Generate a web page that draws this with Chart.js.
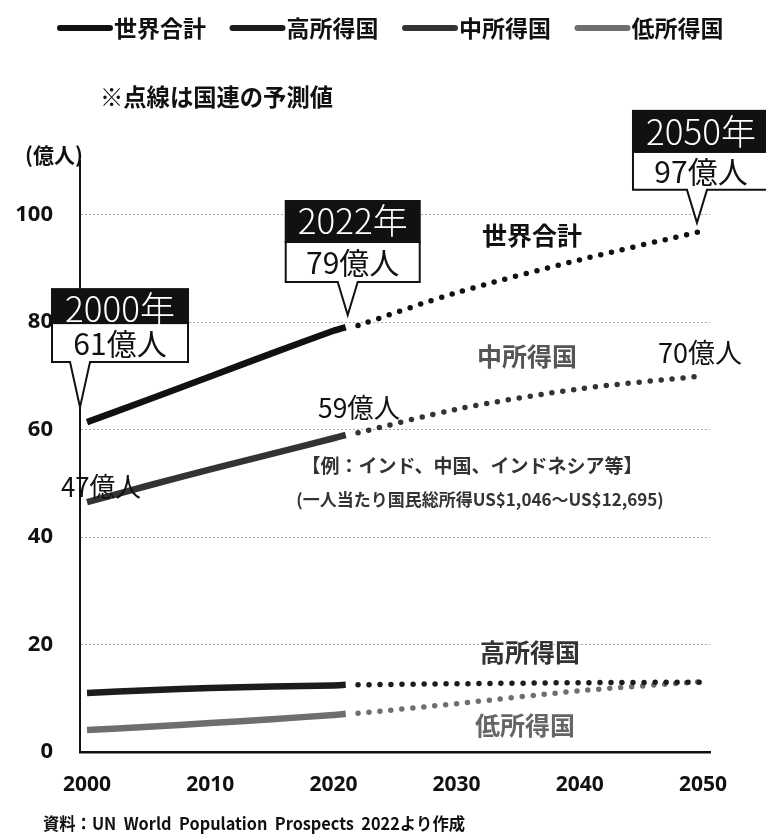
<!DOCTYPE html>
<html lang="ja">
<head>
<meta charset="utf-8">
<title>世界人口の推移</title>
<script src="https://cdn.jsdelivr.net/npm/chart.js@4.4.1/dist/chart.umd.min.js"></script>
<style>
  html, body { margin: 0; padding: 0; background: #fff; }
  #wrap { width: 766px; height: 837px; }
</style>
</head>
<body>
<div id="wrap"><canvas id="chart" width="766" height="837"></canvas></div>
<script>
/* ---------- data (億人) ---------- */
const seriesNames = ["世界合計", "高所得国", "中所得国", "低所得国"];

// actual values (solid lines)
const actualYears = [2000, 2005, 2010, 2015, 2020, 2021];
const actualWorld = [61.4, 65.6, 69.9, 74.2, 78.4, 79.1];
const actualHigh = [11.0, 11.5, 11.9, 12.2, 12.4, 12.5];
const actualMiddle = [46.5, 49.6, 52.6, 55.5, 58.4, 59.0];
const actualLow = [4.1, 4.7, 5.4, 6.1, 6.9, 7.1];

// UN projections (dotted lines)
const forecastYears = [2022, 2030, 2040, 2050];
const forecastWorld = [79.4, 85.5, 91.6, 97.0];
const forecastHigh = [12.5, 12.7, 12.9, 13.0];
const forecastMiddle = [59.4, 63.8, 67.6, 70.0];
const forecastLow = [7.2, 9.0, 11.4, 13.1];

const yearTicks = [2000, 2010, 2020, 2030, 2040, 2050];
const popTicks = [0, 20, 40, 60, 80, 100];

// callouts on the world total line
const calloutHeads = ["2000年", "2022年", "2050年"];
const calloutBodies = ["61億人", "79億人", "97億人"];

/* ---------- styles ---------- */
const colors = ["#111111", "#1c1c1c", "#333333", "#6e6e6e"];
const CJK = '"Noto Sans CJK JP", "Noto Sans", sans-serif';

const actualSeries = [actualWorld, actualHigh, actualMiddle, actualLow];
const forecastSeries = [forecastWorld, forecastHigh, forecastMiddle, forecastLow];
const toPts = (xs, ys) => xs.map((x, i) => ({ x: x, y: ys[i] }));

const datasets = [];
actualSeries.forEach((vals, i) => {
    datasets.push({
        label: seriesNames[i],
        data: toPts(actualYears, vals),
        borderColor: colors[i],
        borderWidth: 6.5,
        borderCapStyle: "butt",
        pointRadius: 0,
        tension: 0.25,
        fill: false
    });
});
forecastSeries.forEach((vals, i) => {
    datasets.push({
        label: seriesNames[i] + "（予測）",
        data: toPts(forecastYears, vals),
        borderColor: colors[i],
        borderWidth: 5.5,
        borderDash: [0, 11],
        borderCapStyle: "round",
        pointRadius: 0,
        tension: 0.3,
        fill: false
    });
});

/* ---------- callout boxes ---------- */
// geometry per callout: where the pointer tip sits relative to the data point
const calloutGeom = [
    { dx: -7, dy: -15, leftOff: 28, width: 136, headH: 35, bodyH: 39, pointerH: 45, headBase: 1 },
    { dx: 2, dy: -12, leftOff: 62, width: 134, headH: 42, bodyH: 40, pointerH: 33, headBase: 8 },
    { dx: -6, dy: -8, leftOff: 64, width: 136, headH: 42, bodyH: 38, pointerH: 33, headBase: 7 }
];

const calloutPlugin = {
    id: "callouts",
    afterDatasetsDraw(chart) {
        const ctx = chart.ctx;
        const xs = chart.scales.x, ys = chart.scales.y;
        const last = actualYears.length - 1;
        const anchors = [
            [actualYears[0], actualWorld[0]],
            [actualYears[last], actualWorld[last]],
            [forecastYears[forecastYears.length - 1], forecastWorld[forecastWorld.length - 1]]
        ];
        anchors.forEach((a, i) => {
            const g = calloutGeom[i];
            const ax = xs.getPixelForValue(a[0]) + g.dx;
            const ay = ys.getPixelForValue(a[1]) + g.dy;
            const left = ax - g.leftOff, right = left + g.width;
            const bodyBottom = ay - g.pointerH;
            const bodyTop = bodyBottom - g.bodyH;
            const headTop = bodyTop - g.headH;

            ctx.save();
            ctx.beginPath();
            ctx.moveTo(left, bodyTop);
            ctx.lineTo(right, bodyTop);
            ctx.lineTo(right, bodyBottom);
            ctx.lineTo(ax + 10, bodyBottom);
            ctx.lineTo(ax, ay);
            ctx.lineTo(ax - 10, bodyBottom);
            ctx.lineTo(left, bodyBottom);
            ctx.closePath();
            ctx.fillStyle = "#fff";
            ctx.fill();
            ctx.lineWidth = 2;
            ctx.strokeStyle = "#111";
            ctx.lineJoin = "miter";
            ctx.stroke();

            ctx.fillStyle = "#111";
            ctx.fillRect(left - 1, headTop, g.width + 2, g.headH + 1);

            const cx = (left + right) / 2;
            ctx.textAlign = "center";
            ctx.fillStyle = "#fff";
            ctx.font = "300 35px " + CJK;
            ctx.textBaseline = "alphabetic";
            ctx.fillText(calloutHeads[i], cx, bodyTop - g.headBase);

            ctx.fillStyle = "#111";
            ctx.font = "400 30px " + CJK;
            ctx.textBaseline = "middle";
            ctx.fillText(calloutBodies[i], cx, bodyTop + g.bodyH / 2 + 1);
            ctx.restore();
        });
    }
};

/* ---------- legend + text labels ---------- */
const textLabels = [
    { t: "世界合計", x: 532, y: 235, f: "bold 25px", c: "#111", w: 103 },
    { t: "中所得国", x: 527, y: 356, f: "bold 25px", c: "#555", w: 102 },
    { t: "70億人", x: 700, y: 353, f: "400 27px", c: "#111", w: 86 },
    { t: "59億人", x: 359, y: 408, f: "400 27px", c: "#111", w: 82 },
    { t: "47億人", x: 101, y: 487, f: "400 27px", c: "#111", w: 80 },
    { t: "【例：インド、中国、インドネシア等】", x: 472, y: 466, f: "bold 19px", c: "#333", w: 354 },
    { t: "(一人当たり国民総所得US$1,046～US$12,695)", x: 480, y: 500, f: "bold 17px", c: "#333", w: 386 },
    { t: "高所得国", x: 530, y: 652, f: "bold 25px", c: "#333", w: 104 },
    { t: "低所得国", x: 525, y: 725, f: "bold 25px", c: "#666", w: 104 },
    { t: "※点線は国連の予測値", x: 100, y: 97, f: "bold 24px", c: "#111", w: 233, a: "left" },
    { t: "(億人)", x: 25, y: 155, f: "bold 21px", c: "#111", w: 66, a: "left" },
    { t: "資料：UN  World  Population  Prospects  2022より作成", x: 43, y: 824, f: "bold 17px", c: "#111", w: 422, a: "left" }
];

const labelPlugin = {
    id: "labels",
    afterDraw(chart) {
        const ctx = chart.ctx;
        ctx.save();
        ctx.textBaseline = "middle";
        textLabels.forEach(l => {
            ctx.font = l.f + " " + CJK;
            ctx.fillStyle = l.c;
            ctx.textAlign = l.a || "center";
            ctx.fillText(l.t, l.x, l.y, l.w);
        });

        // legend: one entry per solid series
        const legendY = 28;
        for (let i = 0; i < seriesNames.length; i++) {
            const x0 = 60 + i * 172.5;
            ctx.beginPath();
            ctx.lineCap = "round";
            ctx.lineWidth = 6;
            ctx.strokeStyle = chart.data.datasets[i].borderColor;
            ctx.moveTo(x0, legendY);
            ctx.lineTo(x0 + 50, legendY);
            ctx.stroke();
            ctx.font = "bold 23px " + CJK;
            ctx.fillStyle = "#111";
            ctx.textAlign = "left";
            ctx.fillText(chart.data.datasets[i].label, x0 + 54, legendY, 95);
        }
        ctx.restore();
    }
};

/* ---------- chart ---------- */
const tickFont = { family: '"Noto Sans", sans-serif', size: 21, weight: "bold" };

new Chart(document.getElementById("chart").getContext("2d"), {
    type: "line",
    data: { datasets: datasets },
    options: {
        responsive: false,
        animation: false,
        devicePixelRatio: 1,
        layout: { padding: { top: 161, right: 56, left: 0, bottom: 0 } },
        plugins: {
            legend: { display: false },
            tooltip: { enabled: false }
        },
        scales: {
            x: {
                type: "linear",
                min: 1999.43,
                max: 2050.57,
                afterBuildTicks: s => { s.ticks = yearTicks.map(v => ({ value: v })); },
                afterFit: s => { s.height = 85; },
                grid: { display: false, drawTicks: false },
                border: { display: true, color: "#111", width: 2.5 },
                ticks: {
                    padding: 20,
                    color: "#111",
                    font: tickFont,
                    maxRotation: 0,
                    autoSkip: false,
                    callback: v => String(v)
                }
            },
            y: {
                min: 0,
                max: 110,
                afterBuildTicks: s => { s.ticks = popTicks.map(v => ({ value: v })); },
                afterFit: s => { s.width = 80; },
                grid: {
                    drawTicks: false,
                    lineWidth: 1,
                    color: c => (c.tick && c.tick.value === 0) ? "rgba(0,0,0,0)" : "#a8a8a8"
                },
                border: { display: true, color: "#111", width: 2, dash: [2, 2] },
                ticks: {
                    padding: 27,
                    color: "#111",
                    font: { family: '"Noto Sans", sans-serif', size: 22, weight: "bold" },
                    callback: v => String(v)
                }
            }
        }
    },
    plugins: [calloutPlugin, labelPlugin]
});
</script>
</body>
</html>
